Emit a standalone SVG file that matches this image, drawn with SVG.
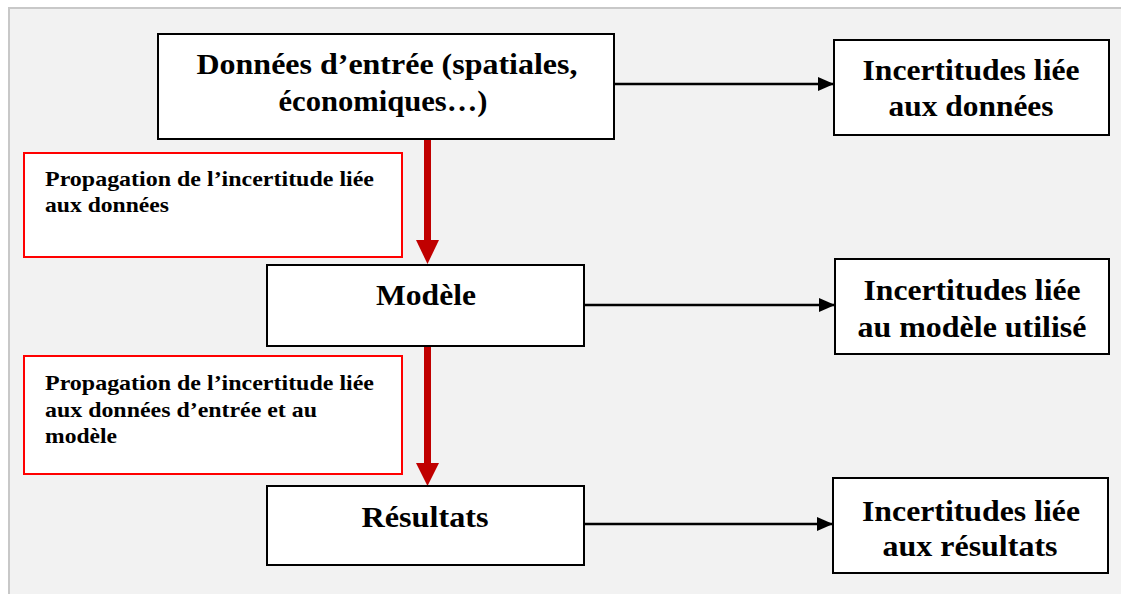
<svg xmlns="http://www.w3.org/2000/svg" width="1121" height="594" viewBox="0 0 1121 594">
<style>
.box{fill:#fff;stroke:#000;stroke-width:2}
.rbox{fill:#fff;stroke:#ff0000;stroke-width:2}
.t{font-family:"Liberation Serif","Times New Roman",serif;font-weight:bold;font-size:29px;fill:#000;text-anchor:middle}
.s{font-family:"Liberation Serif","Times New Roman",serif;font-weight:bold;font-size:21px;fill:#000}
.c{stroke:#000;stroke-width:2.5;fill:none}
.r{fill:#c00000}
</style>
<defs>
<marker id="ah" markerWidth="16" markerHeight="14" refX="16" refY="7" orient="auto" markerUnits="userSpaceOnUse">
<path d="M0,0 L16,7 L0,14 Z" fill="#000"/>
</marker>
</defs>
<rect x="0" y="0" width="1121" height="594" fill="#fff"/>
<rect x="9" y="8" width="1114" height="590" fill="#f2f2f2" stroke="#c8c8c8" stroke-width="2"/>
<g id="connectors">
<line class="c" x1="613" y1="84" x2="834" y2="84" marker-end="url(#ah)"/>
<line class="c" x1="584" y1="305" x2="835" y2="305" marker-end="url(#ah)"/>
<line class="c" x1="582" y1="524" x2="833" y2="524" marker-end="url(#ah)"/>
<rect class="r" x="424" y="139" width="7" height="102"/>
<path class="r" d="M416,240 L439,240 L427.5,264 Z"/>
<rect class="r" x="424" y="346" width="7" height="118"/>
<path class="r" d="M416,463 L439,463 L427.5,486 Z"/>
</g>
<g id="donnees">
<rect class="box" x="158" y="34" width="456" height="105"/>
<text class="t" x="387" y="74" textLength="381" lengthAdjust="spacingAndGlyphs">Données d’entrée (spatiales,</text>
<text class="t" x="383" y="111" textLength="209" lengthAdjust="spacingAndGlyphs">économiques…)</text>
</g>
<g id="inc-donnees">
<rect class="box" x="834" y="40" width="275" height="95"/>
<text class="t" x="971" y="80" textLength="217" lengthAdjust="spacingAndGlyphs">Incertitudes liée</text>
<text class="t" x="971" y="116" textLength="165" lengthAdjust="spacingAndGlyphs">aux données</text>
</g>
<g id="prop1">
<rect class="rbox" x="24" y="153" width="378" height="104"/>
<text class="s" x="45" y="186" textLength="329" lengthAdjust="spacingAndGlyphs">Propagation de l’incertitude liée</text>
<text class="s" x="45" y="212" textLength="124" lengthAdjust="spacingAndGlyphs">aux données</text>
</g>
<g id="modele">
<rect class="box" x="267" y="265" width="317" height="81"/>
<text class="t" x="426" y="305" textLength="100" lengthAdjust="spacingAndGlyphs">Modèle</text>
</g>
<g id="inc-modele">
<rect class="box" x="835" y="259" width="274" height="95"/>
<text class="t" x="972" y="300" textLength="217" lengthAdjust="spacingAndGlyphs">Incertitudes liée</text>
<text class="t" x="972" y="337" textLength="229" lengthAdjust="spacingAndGlyphs">au modèle utilisé</text>
</g>
<g id="prop2">
<rect class="rbox" x="24" y="356" width="378" height="118"/>
<text class="s" x="45" y="390" textLength="329" lengthAdjust="spacingAndGlyphs">Propagation de l’incertitude liée</text>
<text class="s" x="45" y="417" textLength="272" lengthAdjust="spacingAndGlyphs">aux données d’entrée et au</text>
<text class="s" x="45" y="443" textLength="72" lengthAdjust="spacingAndGlyphs">modèle</text>
</g>
<g id="resultats">
<rect class="box" x="267" y="486" width="317" height="79"/>
<text class="t" x="425" y="527" textLength="127" lengthAdjust="spacingAndGlyphs">Résultats</text>
</g>
<g id="inc-resultats">
<rect class="box" x="833" y="478" width="275" height="95"/>
<text class="t" x="971" y="521" textLength="218" lengthAdjust="spacingAndGlyphs">Incertitudes liée</text>
<text class="t" x="970" y="556" textLength="175" lengthAdjust="spacingAndGlyphs">aux résultats</text>
</g>
</svg>
